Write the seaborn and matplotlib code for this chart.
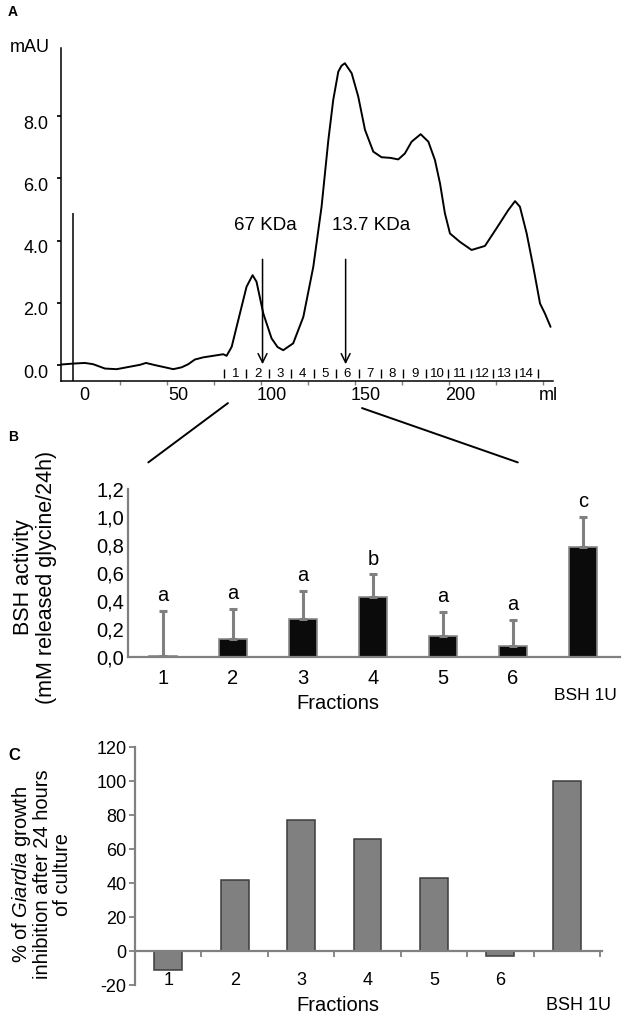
import numpy as np
import pandas as pd
import matplotlib
matplotlib.use("Agg")
import matplotlib.pyplot as plt
import seaborn as sns
from matplotlib.patches import ConnectionPatch
from matplotlib.transforms import ScaledTranslation, blended_transform_factory

sns.set_theme(style="white")
plt.rcParams["font.family"] = ["Liberation Sans", "DejaVu Sans"]
plt.rcParams["mathtext.fontset"] = "custom"
plt.rcParams["mathtext.rm"] = "Liberation Sans"
plt.rcParams["mathtext.it"] = "Liberation Sans:italic"
plt.rcParams["text.color"] = "black"
plt.rcParams["axes.labelcolor"] = "black"
plt.rcParams["xtick.labelcolor"] = "black"
plt.rcParams["ytick.labelcolor"] = "black"

# ---------------- data ----------------
# Panel A: elution profile
elution_ml = [-12.0, -5.7, 0.5, 4.9, 11.2, 17.4, 24.5, 29.8, 33.0, 37.8, 43.1, 47.5,
              52.0, 55.5, 59.0, 63.5, 68.8, 74.1, 75.9, 78.6, 81.2, 86.5, 89.7, 91.8,
              95.4, 99.8, 103.0, 106.0, 111.3, 116.7, 122.0, 126.4, 130.0, 132.6, 135.3,
              137.0, 138.8, 142.4, 145.9, 149.5, 153.9, 158.3, 163.0, 167.2, 170.7, 174.3,
              179.1, 183.2, 186.7, 189.4, 192.0, 194.7, 200.0, 206.2, 213.3, 219.5, 225.7,
              229.3, 231.9, 235.5, 239.0, 242.6, 245.2, 248.2]
absorbance_mau = [0.02, 0.05, 0.07, 0.03, -0.11, -0.13, -0.05, 0.01, 0.07, 0.00, -0.07, -0.13,
                  -0.07, 0.03, 0.18, 0.25, 0.30, 0.35, 0.30, 0.59, 1.23, 2.52, 2.89, 2.68,
                  1.66, 0.86, 0.58, 0.48, 0.70, 1.55, 3.16, 5.09, 7.23, 8.52, 9.43,
                  9.62, 9.70, 9.38, 8.63, 7.56, 6.86, 6.68, 6.66, 6.61, 6.80, 7.18,
                  7.42, 7.18, 6.59, 5.84, 4.88, 4.23, 3.96, 3.70, 3.83, 4.40, 4.98,
                  5.27, 5.09, 4.23, 3.16, 1.98, 1.66, 1.23]
injection_ml = -5.7
fraction_numbers = list(range(1, 15))
fraction_start_ml = 74.5
fraction_width_ml = 11.93
marker_ml = [95.0, 139.2]
marker_labels = ["67 KDa", "13.7 KDa"]
marker_label_ml = [96.5, 153.0]
x_tick_vals = [0, 50, 100, 150, 200]
y_tick_vals = [0, 2, 4, 6, 8]

# Panels B and C
categories = ["1", "2", "3", "4", "5", "6", "BSH 1U"]
bsh_activity = [0.01, 0.13, 0.27, 0.43, 0.15, 0.08, 0.785]
bsh_error = [0.32, 0.215, 0.20, 0.16, 0.175, 0.186, 0.215]
bsh_letters = ["a", "a", "a", "b", "a", "a", "c"]
inhibition_pct = [-11, 42, 77, 66, 43, -3, 100]

# ---------------- figure ----------------
W, H = 624, 1017
fig = plt.figure(figsize=(W / 100, H / 100), dpi=100)


def rect(l, t, r, b):
    return [l / W, 1 - b / H, (r - l) / W, (b - t) / H]


def shift(dx_px, dy_px):
    return ScaledTranslation(dx_px / 100, dy_px / 100, fig.dpi_scale_trans)


grey = "#808080"

# ---------- Panel A ----------
axA = fig.add_axes(rect(61, 48, 553, 381))
dfA = pd.DataFrame({"ml": elution_ml, "mAU": absorbance_mau})
sns.lineplot(data=dfA, x="ml", y="mAU", ax=axA, color="black", lw=1.4,
             estimator=None, sort=False)
axA.set_xlim(-12.2, 249.5)
axA.set_ylim(-0.51, 10.19)
axA.set_xlabel("")
axA.set_ylabel("")
for s in ["top", "right"]:
    axA.spines[s].set_visible(False)
for s in ["left", "bottom"]:
    axA.spines[s].set_color("black")
    axA.spines[s].set_linewidth(1.1)

axA.set_xticks(x_tick_vals + [247])
axA.set_xticklabels([str(v) for v in x_tick_vals] + ["ml"], fontsize=13)
axA.set_xticks(injection_ml + 25 * np.arange(1, 11), minor=True)
axA.tick_params(axis="x", which="major", length=0, pad=4)
axA.tick_params(axis="x", which="minor", length=3, color=grey, direction="out", bottom=True)
axA.set_yticks(y_tick_vals)
axA.set_yticklabels([f"{v:.1f}" for v in y_tick_vals], fontsize=13)
axA.tick_params(axis="y", length=3, color="black", direction="out", left=True, pad=6)
for lbl in axA.get_yticklabels():
    lbl.set_transform(lbl.get_transform() + shift(0, -6))

axA.vlines(injection_ml, -0.51, 4.9, color="black", lw=1.1)
for xm, lab, xl in zip(marker_ml, marker_labels, marker_label_ml):
    axA.annotate("", xy=(xm, 0.03), xytext=(xm, 3.4),
                 arrowprops=dict(arrowstyle="->", lw=1.1, color="black",
                                 mutation_scale=16, shrinkA=0, shrinkB=0))
    axA.text(xl, 4.5, lab, ha="center", va="center", fontsize=13.5)

edges = fraction_start_ml + fraction_width_ml * np.arange(len(fraction_numbers) + 1)
axA.vlines(edges, -0.40, -0.14, color="black", lw=1.0)
for i, n in enumerate(fraction_numbers):
    axA.text(edges[i] + fraction_width_ml / 2, -0.27, str(n), ha="center",
             va="center", fontsize=9.5)
axA.text(-0.063, 1.0, "mAU", transform=axA.transAxes, ha="center", va="center",
         fontsize=13)

# ---------- Panel B ----------
axB = fig.add_axes(rect(128, 489, 620, 657))
dfB = pd.DataFrame({"sample": categories, "activity": bsh_activity})
sns.barplot(data=dfB, x="sample", y="activity", ax=axB, color="#0b0b0b",
            edgecolor="#8a8a8a", linewidth=1.2, width=0.4, errorbar=None,
            saturation=1)
pos = np.arange(len(categories))
axB.errorbar(pos, bsh_activity, yerr=[np.zeros(len(pos)), bsh_error], fmt="none",
             ecolor=grey, elinewidth=2.2, capsize=2.6, capthick=2.2, zorder=1)
for x, v, e, t in zip(pos, bsh_activity, bsh_error, bsh_letters):
    axB.text(x, v + e + 0.07, t, ha="center", va="baseline", fontsize=14.5)
axB.set_xlim(-0.5, 6.53)
axB.set_ylim(0, 1.2)
axB.set_xlabel("")
axB.set_ylabel("")
for s in ["top", "right"]:
    axB.spines[s].set_visible(False)
for s in ["left", "bottom"]:
    axB.spines[s].set_color(grey)
    axB.spines[s].set_linewidth(1.6)
yB = np.round(np.arange(0, 1.21, 0.2), 1)
axB.set_yticks(yB)
axB.set_yticklabels([f"{v:.1f}".replace(".", ",") for v in yB], fontsize=14.5)
axB.tick_params(axis="y", length=0, pad=3)
axB.set_xticks(pos)
axB.set_xticklabels(categories, fontsize=14.5)
axB.tick_params(axis="x", length=0, pad=9)
lblsB = axB.get_xticklabels()
lblsB[-1].set_fontsize(12.5)
lblsB[-1].set_transform(lblsB[-1].get_transform() + shift(3, -19))
trB = blended_transform_factory(axB.transData, axB.transAxes)
axB.text(2.5, -0.275, "Fractions", transform=trB, ha="center", va="center", fontsize=14.5)
fig.text(35 / W, 1 - 577 / H, "BSH activity\n(mM released glycine/24h)", rotation=90,
         ha="center", va="center", multialignment="center", fontsize=15.5,
         linespacing=1.15)

# ---------- Panel C ----------
axC = fig.add_axes(rect(135, 747, 602, 985))
dfC = pd.DataFrame({"sample": categories, "inhibition": inhibition_pct})
sns.barplot(data=dfC, x="sample", y="inhibition", ax=axC, color=grey,
            edgecolor="#3c3c3c", linewidth=1.1, width=0.42, errorbar=None,
            saturation=1)
axC.set_xlim(-0.5, 6.53)
axC.set_ylim(-20, 120)
axC.set_xlabel("")
axC.set_ylabel("")
for s in ["top", "right"]:
    axC.spines[s].set_visible(False)
for s in ["left", "bottom"]:
    axC.spines[s].set_color(grey)
    axC.spines[s].set_linewidth(1.6)
axC.spines["bottom"].set_position(("data", 0))
yC = list(range(-20, 121, 20))
axC.set_yticks(yC)
axC.set_yticklabels([str(v) for v in yC], fontsize=13)
axC.tick_params(axis="y", length=4, width=1.3, color=grey, direction="out", left=True, pad=2)
axC.set_xticks(pos)
axC.set_xticklabels(categories, fontsize=13)
axC.set_xticks(pos + 0.5, minor=True)
axC.tick_params(axis="x", which="major", length=0, pad=15)
axC.tick_params(axis="x", which="minor", length=4, width=1.3, color=grey,
                direction="out", bottom=True)
lblsC = axC.get_xticklabels()
lblsC[-1].set_fontsize(13)
lblsC[-1].set_transform(lblsC[-1].get_transform() + shift(12, -25))
trC = blended_transform_factory(axC.transData, axC.transAxes)
axC.text(2.55, -0.085, "Fractions", transform=trC, ha="center", va="center", fontsize=14.5)
fig.text(41 / W, 1 - 874 / H,
         "% of $\\it{Giardia}$ growth\ninhibition after 24 hours\nof culture",
         rotation=90, ha="center", va="center", multialignment="center",
         fontsize=14.5, linespacing=1.0)

# ---------- connectors between A and B ----------
for (xa, ya), (xb, yb) in [((76.6, -1.22), (-0.21, 1.39)), ((147.9, -1.38), (5.07, 1.39))]:
    cp = ConnectionPatch(xyA=(xa, ya), coordsA=axA.transData, xyB=(xb, yb),
                         coordsB=axB.transData, color="black", lw=1.4)
    fig.add_artist(cp)

# panel letters
fig.text(8 / W, 1 - 12 / H, "A", fontsize=10, weight="bold", va="center")
fig.text(8 / W, 1 - 437 / H, "B", fontsize=10, weight="bold", va="center")
fig.text(8 / W, 1 - 755 / H, "C", fontsize=12, weight="bold", va="center")

fig.savefig("out.png", dpi=100)
